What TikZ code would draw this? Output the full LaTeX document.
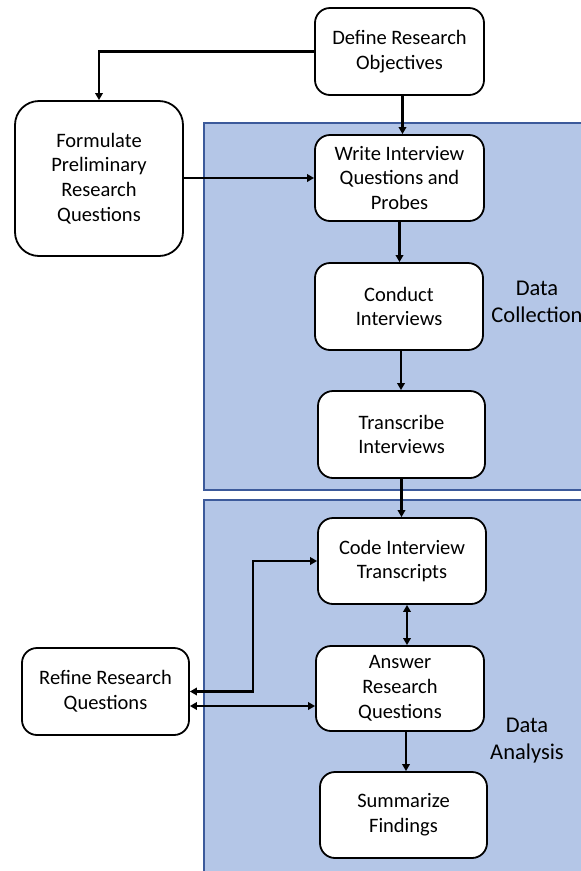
\documentclass[tikz,border=0pt]{standalone}
\usepackage{fontspec}
\setmainfont{Carlito}
\usetikzlibrary{arrows.meta}
\definecolor{panelfill}{RGB}{180,198,231}
\definecolor{panelline}{RGB}{60,90,155}
\begin{document}
\begin{tikzpicture}[x=1pt,y=-1pt,
  box/.style={draw=black,line width=1.8pt,fill=white,rounded corners=15pt,align=center,
    inner sep=0pt,font=\fontsize{20.5}{24.8}\selectfont},
  panel/.style={draw=panelline,line width=1.1pt,fill=panelfill},
  lbl/.style={align=center,font=\fontsize{22.5}{27}\selectfont,inner sep=0pt},
  conn/.style={line width=2.6pt,-{Triangle[length=7pt,width=7.5pt]}},
  bconn/.style={line width=2.6pt,{Triangle[length=7pt,width=7.5pt]}-{Triangle[length=7pt,width=7.5pt]}}]
\useasboundingbox (0,0) rectangle (581,871);
\fill[white] (0,0) rectangle (581,871);
% panels
\draw[panel] (204,123) rectangle (620,490);
\draw[panel] (204,500) rectangle (620,900);
\node[lbl] (dclbl) at (537,302) {Data\\Collection};
\node[lbl] (dalbl) at (527,741) {Data\\Analysis};
% boxes
\node[box,minimum width=169pt,minimum height=87pt] (def) at (399.5,51.5) {Define Research\\Objectives};
\node[box,minimum width=168pt,minimum height=155pt,rounded corners=24pt] (form) at (99,178.5) {Formulate\\Preliminary\\Research\\Questions};
\node[box,minimum width=169pt,minimum height=86pt] (write) at (399.5,178) {Write Interview\\Questions and\\Probes};
\node[box,minimum width=168pt,minimum height=87pt] (cond) at (399,306.5) {Conduct\\Interviews};
\node[box,minimum width=167pt,minimum height=87pt] (trans) at (401.5,434.5) {Transcribe\\Interviews};
\node[box,minimum width=168pt,minimum height=86pt] (code) at (402,561) {Code Interview\\Transcripts};
\node[box,minimum width=168pt,minimum height=85pt] (ans) at (400,688.5) {Answer\\Research\\Questions};
\node[box,minimum width=167pt,minimum height=86pt] (summ) at (403.5,815) {Summarize\\Findings};
\node[box,minimum width=167pt,minimum height=87pt] (ref) at (105.5,691.5) {Refine Research\\Questions};
% connectors
\draw[conn] (def.west) -| (form.north);
\draw[conn] ([xshift=3pt]def.south) -- ([xshift=3pt]def.south |- write.north);
\draw[conn] (form.east |- write.west) -- (write.west);
\draw[conn] (write.south) -- (write.south |- cond.north);
\draw[conn] ([xshift=2pt]cond.south) -- ([xshift=2pt]cond.south |- trans.north);
\draw[conn] (trans.south) -- (trans.south |- code.north);
\draw[bconn] ([xshift=5pt]code.south) -- ([xshift=5pt]code.south |- ans.north);
\draw[conn] ([xshift=6pt]ans.south) -- ([xshift=6pt]ans.south |- summ.north);
\coordinate (bend) at (253,691.5);
\draw[bconn] (ref.east) -- (bend) |- (code.west);
\coordinate (r2) at ([yshift=-14.5pt]ref.east);
\draw[bconn] (r2) -- (ans.west |- r2);
\end{tikzpicture}
\end{document}
